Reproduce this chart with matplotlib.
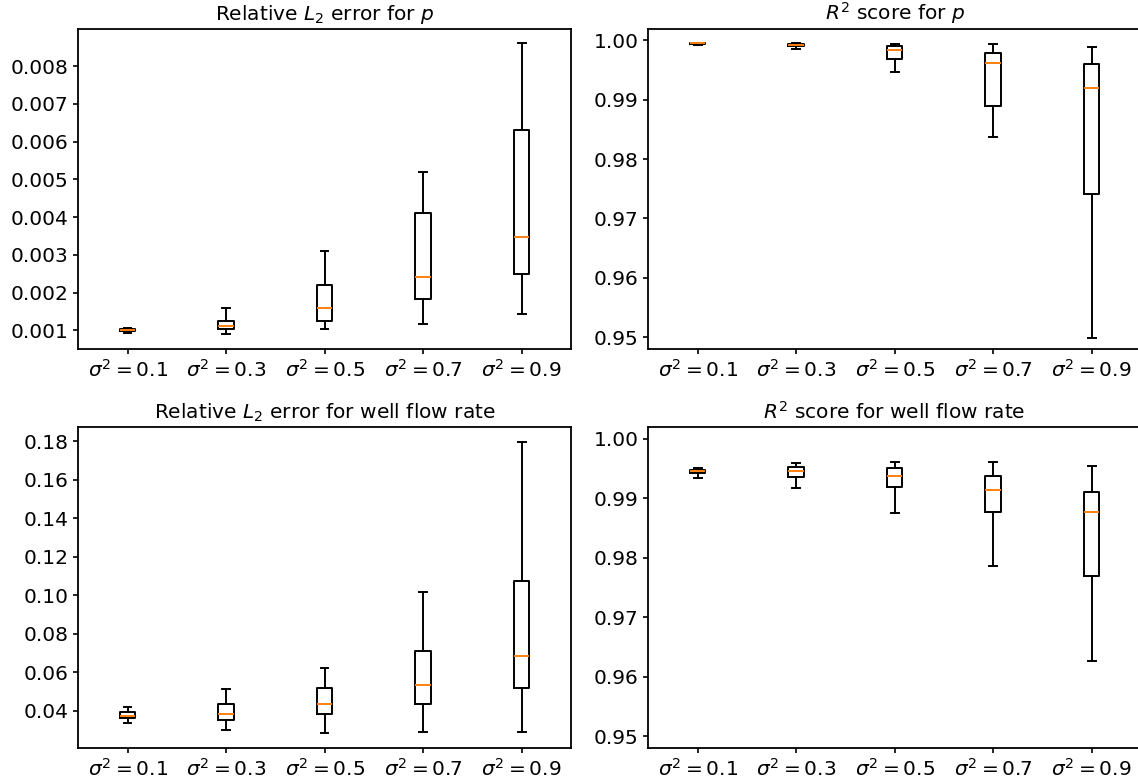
import numpy as np
import matplotlib
matplotlib.use("Agg")
import matplotlib.pyplot as plt

plt.rcParams['font.size'] = 14.5
plt.rcParams['axes.linewidth'] = 1.3
plt.rcParams['xtick.major.width'] = 1.2
plt.rcParams['ytick.major.width'] = 1.2

labels = [r'$\sigma^2=0.1$', r'$\sigma^2=0.3$', r'$\sigma^2=0.5$',
          r'$\sigma^2=0.7$', r'$\sigma^2=0.9$']

# relative L2 error for p
err_p_lo = [0.00094, 0.00089, 0.00103, 0.00117, 0.00144]
err_p_q1 = [0.00097, 0.00103, 0.00126, 0.00184, 0.00248]
err_p_med = [0.00100, 0.00111, 0.00160, 0.00242, 0.00347]
err_p_q3 = [0.00103, 0.00126, 0.00219, 0.00411, 0.00631]
err_p_hi = [0.00107, 0.00158, 0.00311, 0.00519, 0.00861]

# R2 score for p
r2_p_lo = [0.99930, 0.99848, 0.99461, 0.98371, 0.94989]
r2_p_q1 = [0.99945, 0.99899, 0.99685, 0.98893, 0.97404]
r2_p_med = [0.99950, 0.99921, 0.99843, 0.99618, 0.99191]
r2_p_q3 = [0.99955, 0.99938, 0.99904, 0.99792, 0.99607]
r2_p_hi = [0.99962, 0.99961, 0.99944, 0.99938, 0.99888]

# relative L2 error for well flow rate
err_q_lo = [0.0338, 0.0298, 0.0282, 0.0291, 0.0287]
err_q_q1 = [0.0362, 0.0350, 0.0381, 0.0433, 0.0518]
err_q_med = [0.0374, 0.0384, 0.0436, 0.0534, 0.0683]
err_q_q3 = [0.0393, 0.0433, 0.0520, 0.0712, 0.1073]
err_q_hi = [0.0421, 0.0513, 0.0620, 0.1016, 0.1797]

# R2 score for well flow rate
r2_q_lo = [0.99343, 0.99169, 0.98747, 0.97854, 0.96270]
r2_q_q1 = [0.99421, 0.99365, 0.99191, 0.98770, 0.97702]
r2_q_med = [0.99455, 0.99455, 0.99376, 0.99140, 0.98775]
r2_q_q3 = [0.99483, 0.99528, 0.99511, 0.99376, 0.99107]
r2_q_hi = [0.99506, 0.99601, 0.99612, 0.99612, 0.99545]


def make_stats(lo, q1, med, q3, hi):
    stats = []
    for i in range(len(lo)):
        stats.append({'whislo': lo[i], 'q1': q1[i], 'med': med[i],
                      'q3': q3[i], 'whishi': hi[i], 'fliers': []})
    return stats


fig = plt.figure(figsize=(11.38, 7.84), dpi=100)
ax1 = fig.add_axes([0.0688, 0.5548, 0.4328, 0.4088])
ax2 = fig.add_axes([0.5697, 0.5548, 0.4328, 0.4088])
ax3 = fig.add_axes([0.0688, 0.0459, 0.4328, 0.4094])
ax4 = fig.add_axes([0.5697, 0.0459, 0.4328, 0.4094])

panels = [
    (ax1, make_stats(err_p_lo, err_p_q1, err_p_med, err_p_q3, err_p_hi),
     r'Relative $L_2$ error for $p$'),
    (ax2, make_stats(r2_p_lo, r2_p_q1, r2_p_med, r2_p_q3, r2_p_hi),
     r'$R^2$ score for $p$'),
    (ax3, make_stats(err_q_lo, err_q_q1, err_q_med, err_q_q3, err_q_hi),
     r'Relative $L_2$ error for well flow rate'),
    (ax4, make_stats(r2_q_lo, r2_q_q1, r2_q_med, r2_q_q3, r2_q_hi),
     r'$R^2$ score for well flow rate'),
]

lw = 1.4
for ax, stats, title in panels:
    ax.bxp(stats, widths=0.16, showfliers=False,
           boxprops=dict(linewidth=lw), whiskerprops=dict(linewidth=lw),
           capprops=dict(linewidth=lw),
           medianprops=dict(linewidth=lw, color='C1'))
    ax.set_xticks(range(1, 6))
    ax.set_xticklabels(labels)
    ax.set_title(title, fontsize=14.5)

ax1.set_yticks([0.001, 0.002, 0.003, 0.004, 0.005, 0.006, 0.007, 0.008])
ax3.set_yticks([0.04, 0.06, 0.08, 0.10, 0.12, 0.14, 0.16, 0.18])
ax2.set_ylim(0.948, 1.002)
ax4.set_ylim(0.948, 1.002)
ax2.set_yticks([0.95, 0.96, 0.97, 0.98, 0.99, 1.00])
ax4.set_yticks([0.95, 0.96, 0.97, 0.98, 0.99, 1.00])

fig.savefig('out.png', dpi=100)
